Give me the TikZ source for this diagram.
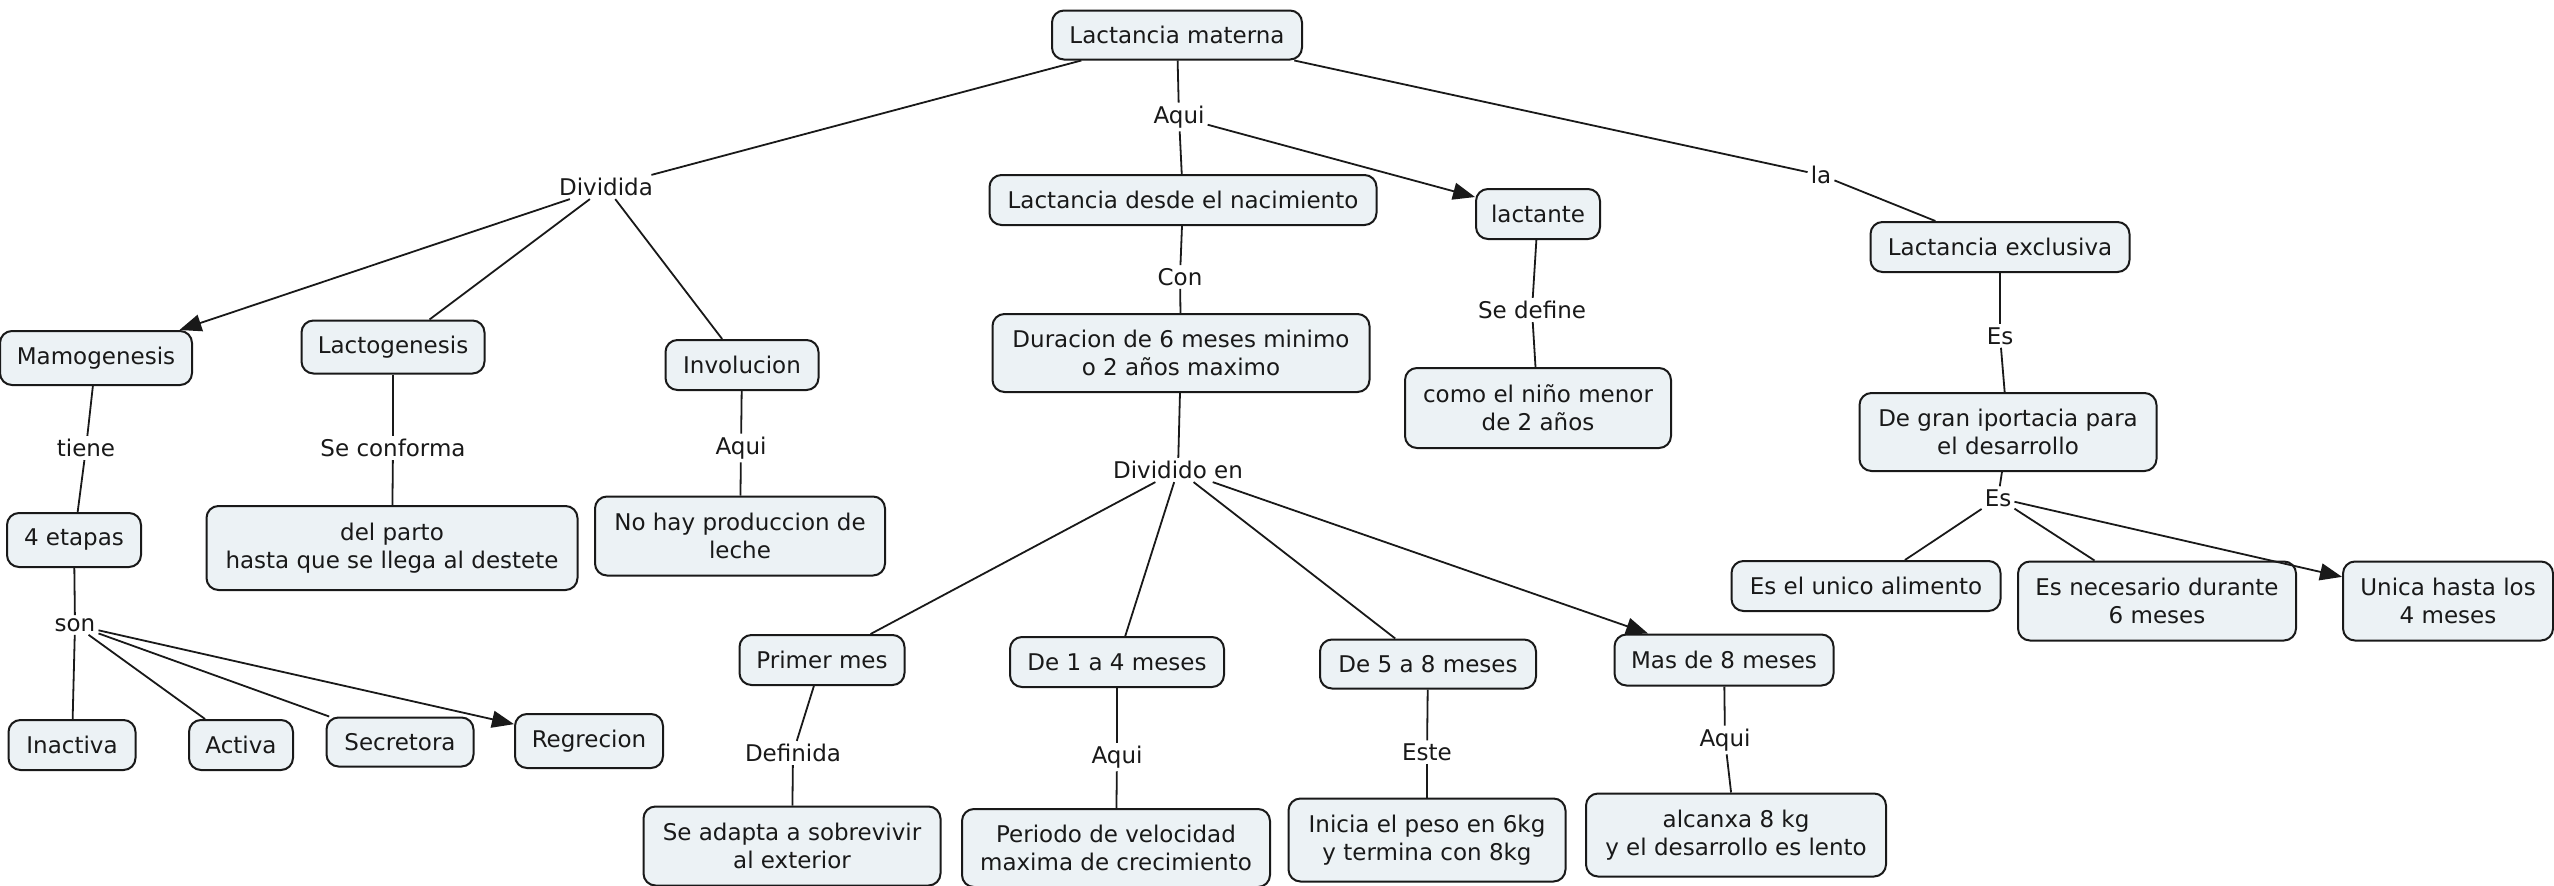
\documentclass[tikz,border=0pt]{standalone}
\usepackage{fontspec}
\setmainfont{DejaVu Sans}
\usetikzlibrary{arrows.meta}
\definecolor{boxfill}{RGB}{236,242,245}
\definecolor{ink}{RGB}{25,25,25}
\begin{document}
\begin{tikzpicture}[x=1pt,y=-1pt,
  concept/.style={draw=ink, line width=2pt, fill=boxfill, rounded corners=12pt,
    align=center, inner sep=2pt, font=\fontsize{23}{28}\selectfont, text=ink},
  lbl/.style={inner sep=3pt, font=\fontsize{23}{28}\selectfont, text=ink},
  link/.style={draw=ink, line width=1.8pt},
  arr/.style={link, -{Triangle[length=22pt,width=17pt]}}]
\useasboundingbox (0,0) rectangle (2554,886);
\fill[white] (0,0) rectangle (2554,886);

% concepts
\node[concept, minimum width=250pt, minimum height=49pt] (LM) at (1177,35) {Lactancia materna};
\node[concept, minimum width=387pt, minimum height=50pt] (LDN) at (1183,200) {Lactancia desde el nacimiento};
\node[concept, minimum width=124pt, minimum height=50pt] (lact) at (1538,214) {lactante};
\node[concept, minimum width=259pt, minimum height=50pt] (LE) at (2000,247) {Lactancia exclusiva};
\node[concept, minimum width=192pt, minimum height=54pt] (mamo) at (96,358) {Mamogenesis};
\node[concept, minimum width=183pt, minimum height=53pt] (lacto) at (393,347) {Lactogenesis};
\node[concept, minimum width=153pt, minimum height=50pt] (invol) at (742,365) {Involucion};
\node[concept, minimum width=377pt, minimum height=78pt] (dur) at (1181,353) {Duracion de 6 meses minimo\\o 2 años maximo};
\node[concept, minimum width=266pt, minimum height=80pt] (como) at (1538,408) {como el niño menor\\de 2 años};
\node[concept, minimum width=297pt, minimum height=78pt] (gran) at (2008,432) {De gran iportacia para\\el desarrollo};
\node[concept, minimum width=134pt, minimum height=54pt] (etapas) at (74,540) {4 etapas};
\node[concept, minimum width=371pt, minimum height=84pt] (parto) at (392,548) {del parto\\hasta que se llega al destete};
\node[concept, minimum width=290pt, minimum height=79pt] (nohay) at (740,536) {No hay produccion de\\leche};
\node[concept, minimum width=269pt, minimum height=50pt] (unico) at (1866,586) {Es el unico alimento};
\node[concept, minimum width=278pt, minimum height=79pt] (neces) at (2157,601) {Es necesario durante\\6 meses};
\node[concept, minimum width=210pt, minimum height=79pt] (unica) at (2448,601) {Unica hasta los\\4 meses};
\node[concept, minimum width=127pt, minimum height=50pt] (inact) at (72,745) {Inactiva};
\node[concept, minimum width=104pt, minimum height=50pt] (activa) at (241,745) {Activa};
\node[concept, minimum width=147pt, minimum height=49pt] (secre) at (400,742) {Secretora};
\node[concept, minimum width=148pt, minimum height=54pt] (regre) at (589,741) {Regrecion};
\node[concept, minimum width=165pt, minimum height=50pt] (primer) at (822,660) {Primer mes};
\node[concept, minimum width=214pt, minimum height=50pt] (uno) at (1117,662) {De 1 a 4 meses};
\node[concept, minimum width=216pt, minimum height=49pt] (cinco) at (1428,664) {De 5 a 8 meses};
\node[concept, minimum width=219pt, minimum height=51pt] (mas) at (1724,660) {Mas de 8 meses};
\node[concept, minimum width=297pt, minimum height=79pt] (adapta) at (792,846) {Se adapta a sobrevivir\\al exterior};
\node[concept, minimum width=308pt, minimum height=78pt] (periodo) at (1116,848) {Periodo de velocidad\\maxima de crecimiento};
\node[concept, minimum width=277pt, minimum height=83pt] (inicia) at (1427,840) {Inicia el peso en 6kg\\y termina con 8kg};
\node[concept, minimum width=300pt, minimum height=83pt] (alcanza) at (1736,835) {alcanxa 8 kg\\y el desarrollo es lento};

% linking phrases
\node[lbl] (dividida) at (606,187) {Dividida};
\node[lbl] (aquiT) at (1179,117) {Aqui};
\node[lbl] (la) at (1821,175) {la};
\node[lbl] (con) at (1180,277) {Con};
\node[lbl] (sedef) at (1532,310) {Se define};
\node[lbl] (es1) at (2000,336) {Es};
\node[lbl] (es2) at (1998,498) {Es};
\node[lbl] (tiene) at (86,448) {tiene};
\node[lbl] (seconf) at (393,448) {Se conforma};
\node[lbl] (aqui1) at (741,448) {Aqui};
\node[lbl] (son) at (75,625) {son};
\node[lbl] (divEn) at (1178,470) {Dividido en};
\node[lbl] (definida) at (793,753) {Definida};
\node[lbl] (aqui2) at (1117,757) {Aqui};
\node[lbl] (este) at (1427,752) {Este};
\node[lbl] (aqui3) at (1725,740) {Aqui};

% connectors
\draw[link] (LM) -- (dividida);
\draw[arr] (dividida) -- (mamo);
\draw[link] (dividida) -- (lacto);
\draw[link] (dividida) -- (invol);
\draw[link] (LM) -- (aquiT);
\draw[link] (aquiT) -- (LDN);
\draw[arr] (aquiT) -- (lact);
\draw[link] (LM) -- (la);
\draw[link] (la) -- (LE);
\draw[link] (LDN) -- (con);
\draw[link] (con) -- (dur);
\draw[link] (dur) -- (divEn);
\draw[link] (divEn) -- (primer);
\draw[link] (divEn) -- (uno);
\draw[link] (divEn) -- (cinco);
\draw[arr] (divEn) -- (mas);
\draw[link] (lact) -- (sedef);
\draw[link] (sedef) -- (como);
\draw[link] (LE) -- (es1);
\draw[link] (es1) -- (gran);
\draw[link] (gran) -- (es2);
\draw[link] (es2) -- (unico);
\draw[link] (es2) -- (neces);
\draw[arr] (es2) -- (unica);
\draw[link] (mamo) -- (tiene);
\draw[link] (tiene) -- (etapas);
\draw[link] (etapas) -- (son);
\draw[link] (son) -- (inact);
\draw[link] (son) -- (activa);
\draw[link] (son) -- (secre);
\draw[arr] (son) -- (regre);
\draw[link] (lacto) -- (seconf);
\draw[link] (seconf) -- (parto);
\draw[link] (invol) -- (aqui1);
\draw[link] (aqui1) -- (nohay);
\draw[link] (primer) -- (definida);
\draw[link] (definida) -- (adapta);
\draw[link] (uno) -- (aqui2);
\draw[link] (aqui2) -- (periodo);
\draw[link] (cinco) -- (este);
\draw[link] (este) -- (inicia);
\draw[link] (mas) -- (aqui3);
\draw[link] (aqui3) -- (alcanza);
\end{tikzpicture}
\end{document}
